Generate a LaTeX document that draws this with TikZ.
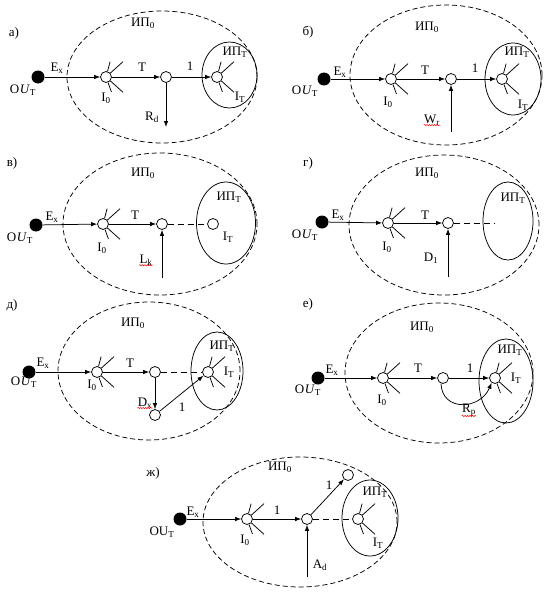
\documentclass[tikz,border=0pt]{standalone}
\usepackage{fontspec}
\setmainfont{Liberation Serif}
\usetikzlibrary{arrows.meta,decorations.pathmorphing}
\newcommand\spk[1]{\draw (#1.75) -- ++(75:10pt) (#1.42) -- ++(42:17pt) (#1.-70) -- ++(-70:10pt) (#1.-42) -- ++(-42:17pt);}
\newcommand\wav[1]{\draw[wavy] ([xshift=1pt,yshift=1.5pt]#1.south west) -- ([xshift=-1pt,yshift=1.5pt]#1.south east);}
\newcommand\OU{O\kern0.5pt\textit{U}\textsubscript{Т}}
\tikzset{
 every node/.style={font=\fontsize{13}{15}\selectfont, inner sep=1pt},
 nd/.style={circle,draw,fill=white,minimum size=11pt,inner sep=0pt},
 src/.style={circle,fill=black,minimum size=13pt,inner sep=0pt},
 outer/.style={dash pattern=on 5pt off 3pt},
 arr/.style={-{Latex[length=6pt,width=4.5pt]}},
 lnk/.style={dash pattern=on 6pt off 4pt},
 wavy/.style={red,decorate,decoration={snake,amplitude=0.6pt,segment length=2.5pt},line width=0.5pt},
 plabel/.style={font=\fontsize{13}{15}\selectfont},
}
\begin{document}
\begin{tikzpicture}[x=1pt,y=1pt,line width=0.75pt]
\useasboundingbox (0,0) rectangle (545,-594);

% ---------- а)
\node[plabel] (la) at (14,-33) {а)};
\draw[outer] (162,-77) ellipse [x radius=95pt, y radius=66pt];
\draw (229.5,-75) ellipse [x radius=27.5pt, y radius=33pt];
\node (a-ip0) at (143,-23) {ИП\textsubscript{0}};
\node (a-ipt) at (235,-52) {ИП\textsubscript{Т}};
\node[src] (a-s) at (38,-77) {};
\node (a-ou) at (23,-90) {\OU};
\node[nd] (a-i0) at (106,-77) {};
\node[nd] (a-m) at (166,-77) {};
\node[nd] (a-it) at (217,-77) {};
\coordinate (a-rd) at (166,-127);
\draw[arr] (a-s) -- (a-i0);
\draw[arr] (a-i0) -- (a-m);
\draw[arr] (a-m) -- (a-it);
\draw[arr] (a-m) -- (a-rd);
\spk{a-i0} \spk{a-it}
\node (a-ex) at (57,-68) {E\textsubscript{x}};
\node (a-l0) at (106,-98) {I\textsubscript{0}};
\node (a-t) at (142,-67) {T};
\node (a-1) at (190,-66) {1};
\node (a-rdl) at (152,-117) {R\textsubscript{d}};
\node (a-itl) at (240,-97) {I\textsubscript{Т}};

% ---------- б)
\node[plabel] (lb) at (308,-32) {б)};
\draw[outer] (446,-75) ellipse [x radius=96pt, y radius=70pt];
\draw (513,-79) ellipse [x radius=28pt, y radius=36pt];
\node (b-ip0) at (427,-27) {ИП\textsubscript{0}};
\node (b-ipt) at (517,-52) {ИП\textsubscript{Т}};
\node[src] (b-s) at (324,-79) {};
\node (b-ou) at (305,-91) {\OU};
\node[nd] (b-i0) at (391,-79) {};
\node[nd] (b-m) at (451,-79) {};
\node[nd] (b-it) at (502,-79) {};
\coordinate (b-w) at (451,-132);
\draw[arr] (b-s) -- (b-i0);
\draw[arr] (b-i0) -- (b-m);
\draw[arr] (b-m) -- (b-it);
\draw[arr] (b-w) -- (b-m);
\spk{b-i0} \spk{b-it}
\node (b-ex) at (340,-72) {E\textsubscript{x}};
\node (b-l0) at (388,-102) {I\textsubscript{0}};
\node (b-t) at (425,-70) {T};
\node (b-1) at (475,-68) {1};
\node (b-wl) at (432,-120) {W\textsubscript{r}};
\wav{b-wl}
\node (b-itl) at (523,-105) {I\textsubscript{Т}};

% ---------- в)
\node[plabel] (lv) at (12,-163) {в)};
\draw[outer] (160,-224) ellipse [x radius=97pt, y radius=71pt];
\draw (226,-223) ellipse [x radius=29.5pt, y radius=41pt];
\node (v-ip0) at (143,-173) {ИП\textsubscript{0}};
\node (v-ipt) at (229,-197) {ИП\textsubscript{Т}};
\node[src] (v-s) at (36,-225) {};
\node (v-ou) at (20,-238) {\OU};
\node[nd] (v-i0) at (103,-224) {};
\node[nd] (v-m) at (162,-224) {};
\node[nd] (v-it) at (213,-224) {};
\coordinate (v-l) at (162,-278);
\draw[arr] (v-s) -- (v-i0);
\draw[arr] (v-i0) -- (v-m);
\draw[lnk] (v-m) -- (v-it);
\draw[arr] (v-l) -- (v-m);
\spk{v-i0}
\node (v-ex) at (52,-217) {E\textsubscript{x}};
\node (v-l0) at (102,-248) {I\textsubscript{0}};
\node (v-t) at (135,-215) {T};
\node (v-ll) at (146,-260) {L\textsubscript{k}};
\wav{v-ll}
\node (v-itl) at (228,-237) {I\textsubscript{Т}};

% ---------- г)
\node[plabel] (lg) at (308,-163) {г)};
\draw[outer] (444,-225) ellipse [x radius=95pt, y radius=70pt];
\draw (508,-221) ellipse [x radius=25pt, y radius=39pt];
\node (g-ip0) at (427,-173) {ИП\textsubscript{0}};
\node (g-ipt) at (513,-198) {ИП\textsubscript{Т}};
\node[src] (g-s) at (322,-222) {};
\node (g-ou) at (305,-235) {\OU};
\node[nd] (g-i0) at (388,-223) {};
\node[nd] (g-m) at (448,-223) {};
\coordinate (g-e) at (495,-223);
\coordinate (g-d) at (448,-277);
\draw[arr] (g-s) -- (g-i0);
\draw[arr] (g-i0) -- (g-m);
\draw[lnk] (g-m) -- (g-e);
\draw[arr] (g-d) -- (g-m);
\spk{g-i0}
\node (g-ex) at (338,-215) {E\textsubscript{x}};
\node (g-l0) at (387,-247) {I\textsubscript{0}};
\node (g-t) at (425,-215) {T};
\node (g-dl) at (431,-258) {D\textsubscript{1}};

% ---------- д)
\node[plabel] (ld) at (12,-305) {д)};
\draw[outer] (149,-371) ellipse [x radius=91pt, y radius=69pt];
\draw (217,-371) ellipse [x radius=26pt, y radius=39pt];
\node (d-ip0) at (133,-323) {ИП\textsubscript{0}};
\node (d-ipt) at (222,-346) {ИП\textsubscript{Т}};
\node[src] (d-s) at (29,-372) {};
\node (d-ou) at (24,-382) {\OU};
\node[nd] (d-i0) at (97,-372) {};
\node[nd] (d-m) at (155,-372) {};
\node[nd] (d-lo) at (155,-415) {};
\node[nd] (d-it) at (208,-372) {};
\draw[arr] (d-s) -- (d-i0);
\draw[arr] (d-i0) -- (d-m);
\draw[lnk] (d-m) -- (d-it);
\draw[arr] (d-m) -- (d-lo);
\draw[arr] (d-lo) -- (d-it);
\spk{d-i0} \spk{d-it}
\node (d-ex) at (43,-363) {E\textsubscript{x}};
\node (d-l0) at (92,-385) {I\textsubscript{0}};
\node (d-t) at (130,-363) {T};
\node (d-dl) at (145,-403) {D\textsubscript{x}};
\wav{d-dl}
\node (d-1) at (182,-407) {1};
\node (d-itl) at (229,-372) {I\textsubscript{Т}};

% ---------- е)
\node[plabel] (le) at (308,-304) {е)};
\draw[outer] (439,-373) ellipse [x radius=94pt, y radius=70pt];
\draw (506,-381) ellipse [x radius=27pt, y radius=42pt];
\node (e-ip0) at (422,-327) {ИП\textsubscript{0}};
\node (e-ipt) at (510,-350) {ИП\textsubscript{Т}};
\node[src] (e-s) at (318,-378) {};
\node (e-ou) at (308,-390) {\OU};
\node[nd] (e-i0) at (383,-378) {};
\node[nd] (e-m) at (443,-378) {};
\node[nd] (e-it) at (495,-378) {};
\draw[arr] (e-s) -- (e-i0);
\draw[arr] (e-i0) -- (e-m);
\draw[arr] (e-m) -- (e-it);
\draw[arr] (e-m.-110) .. controls (442,-412) and (480,-410) .. (e-it.-125);
\spk{e-i0} \spk{e-it}
\node (e-ex) at (332,-370) {E\textsubscript{x}};
\node (e-l0) at (382,-400) {I\textsubscript{0}};
\node (e-t) at (418,-368) {T};
\node (e-1) at (470,-368) {1};
\node (e-rl) at (469,-410) {R\textsubscript{p}};
\wav{e-rl}
\node (e-itl) at (516,-378) {I\textsubscript{Т}};

% ---------- ж)
\node[plabel] (lz) at (153,-473) {ж)};
\draw[outer] (300,-522) ellipse [x radius=97pt, y radius=65pt];
\draw (370,-518) ellipse [x radius=28pt, y radius=38pt];
\node (z-ip0) at (280,-467) {ИП\textsubscript{0}};
\node (z-ipt) at (375,-492) {ИП\textsubscript{Т}};
\node[src] (z-s) at (180,-519) {};
\node (z-ou) at (162,-532) {OU\textsubscript{T}};
\node[nd] (z-i0) at (247,-519) {};
\node[nd] (z-m) at (307,-519) {};
\node[nd] (z-up) at (348,-475) {};
\node[nd] (z-it) at (358,-519) {};
\coordinate (z-a) at (307,-577);
\draw[arr] (z-s) -- (z-i0);
\draw[arr] (z-i0) -- (z-m);
\draw[arr] (z-m) -- (z-up);
\draw[lnk] (z-m) -- (z-it);
\draw[arr] (z-a) -- (z-m);
\spk{z-i0} \spk{z-it}
\node (z-ex) at (193,-512) {E\textsubscript{x}};
\node (z-l0) at (245,-540) {I\textsubscript{0}};
\node (z-1) at (277,-510) {1};
\node (z-1b) at (329,-485) {1};
\node (z-al) at (320,-565) {A\textsubscript{d}};
\node (z-itl) at (378,-543) {I\textsubscript{Т}};
\end{tikzpicture}
\end{document}
